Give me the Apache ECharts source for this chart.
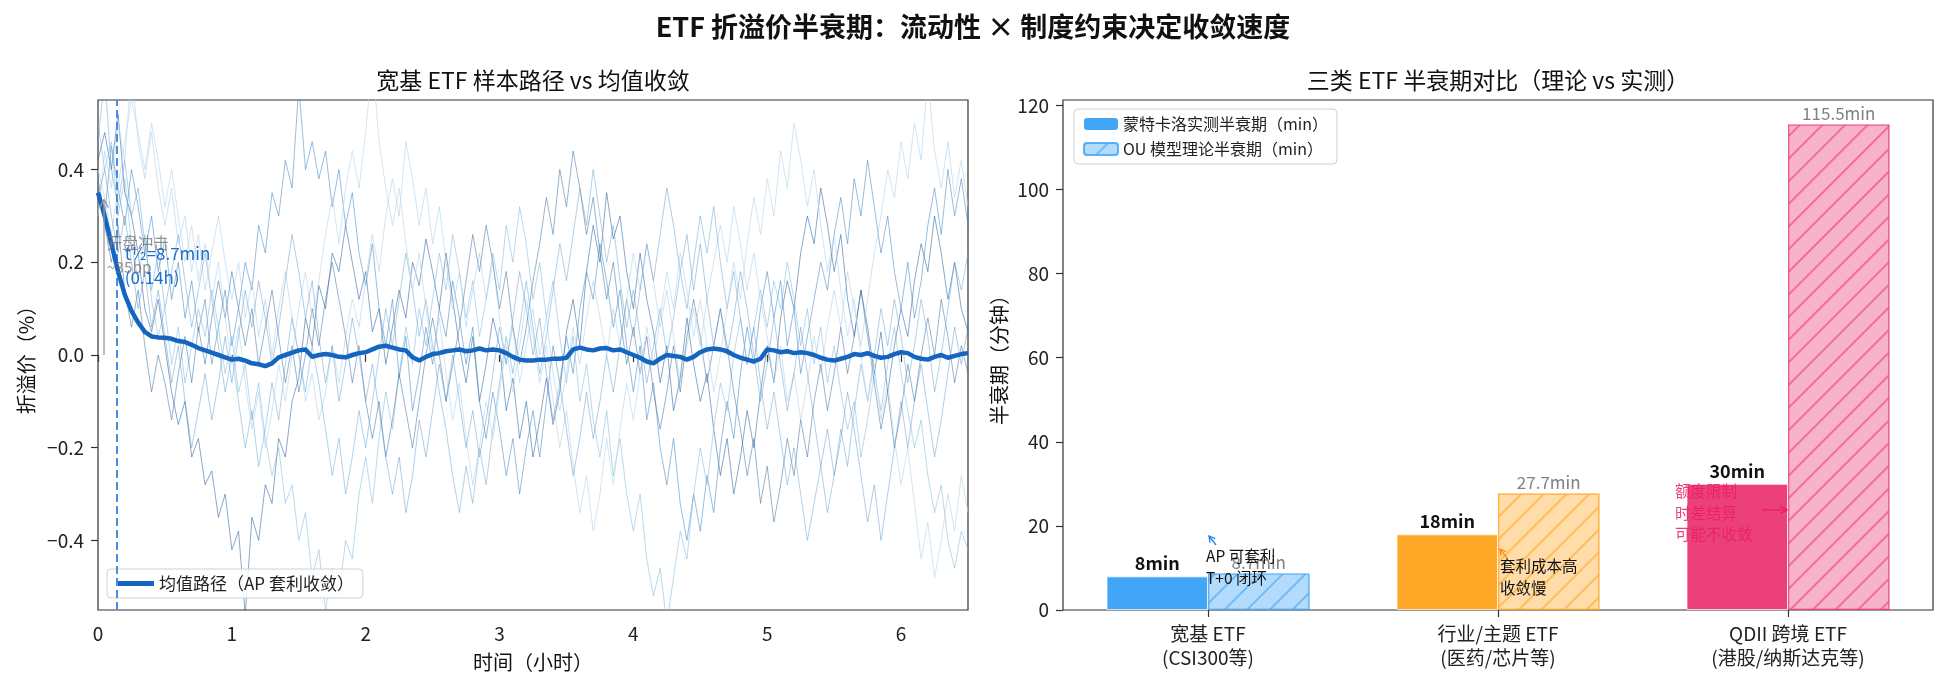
<!DOCTYPE html>
<html>
<head>
<meta charset="utf-8">
<script src="https://cdn.jsdelivr.net/npm/echarts@6/dist/echarts.min.js"></script>
<style>
  html, body { margin: 0; padding: 0; background: #fff; }
  #chart { width: 1947px; height: 692px; }
</style>
</head>
<body>
<div id="chart"></div>
<script>
// ---- data ----
var TIME_STEP = 0.05; // hours between samples
var HALF_LIFE_H = 0.145;

// mean path (AP arbitrage convergence), % premium
var meanPath = [
  0.35,0.30,0.24,0.18,0.13,0.095,0.07,0.05,0.04,0.038,
  0.037,0.035,0.03,0.028,0.022,0.015,0.01,0.005,0.0,-0.005,
  -0.01,-0.008,-0.012,-0.018,-0.02,-0.024,-0.018,-0.005,0.0,0.005,
  0.01,0.012,-0.004,0.0,0.002,0.0,-0.004,-0.005,0.0,0.004,
  0.006,0.012,0.018,0.02,0.016,0.012,0.01,-0.005,-0.012,-0.004,
  0.002,0.004,0.008,0.01,0.012,0.008,0.01,0.014,0.01,0.012,
  0.01,0.004,-0.004,-0.01,-0.012,-0.012,-0.01,-0.01,-0.008,-0.008,
  -0.006,0.012,0.016,0.012,0.01,0.014,0.015,0.01,0.012,0.006,
  0.0,-0.006,-0.014,-0.018,-0.008,0.0,-0.002,-0.004,-0.01,-0.004,
  0.006,0.012,0.014,0.012,0.008,0.0,-0.006,-0.01,-0.014,-0.008,
  0.012,0.01,0.006,0.008,0.004,0.006,0.004,0.0,-0.006,-0.01,
  -0.012,-0.008,-0.004,0.002,0.0,0.004,-0.002,-0.006,-0.004,0.002,
  0.006,0.004,-0.004,-0.008,-0.01,-0.004,0.0,-0.006,-0.002,0.002,
  0.004
];

var path1 = [
  0.42,0.48,0.40,0.52,0.35,0.30,0.22,0.10,0.05,0.12,
  0.02,-0.08,-0.15,-0.10,-0.22,-0.18,-0.28,-0.25,-0.35,-0.30,
  -0.42,-0.38,-0.56,-0.35,-0.40,-0.28,-0.32,-0.18,-0.22,-0.10,
  -0.05,0.08,0.02,0.15,0.10,0.22,0.18,0.28,0.20,0.12,
  0.18,0.05,0.10,-0.02,0.06,0.14,0.08,0.20,0.15,0.25,
  0.18,0.10,0.22,0.12,0.02,-0.06,0.04,-0.10,-0.02,0.08,
  0.02,-0.12,-0.05,-0.18,-0.10,-0.22,-0.14,-0.05,-0.15,-0.08,
  0.05,0.12,0.02,0.18,0.28,0.20,0.35,0.25,0.30,0.18,
  0.10,0.22,0.12,0.05,-0.06,0.02,-0.12,-0.05,0.08,-0.02,
  -0.10,-0.04,-0.16,-0.26,-0.18,-0.30,-0.22,-0.12,-0.20,-0.08,
  0.02,-0.06,0.08,0.16,0.10,0.22,0.30,0.24,0.36,0.28,
  0.18,0.26,0.12,0.04,0.14,0.06,-0.04,0.05,-0.08,0.02,
  0.10,0.04,0.16,0.24,0.18,0.30,0.22,0.12,0.20,0.10,
  0.05
];
var path2 = [
  0.38,0.30,0.45,0.36,0.28,0.40,0.32,0.22,0.30,0.18,
  0.25,0.12,0.20,0.08,0.16,0.05,0.12,-0.02,0.06,0.14,
  0.02,0.10,0.20,0.14,0.28,0.22,0.35,0.30,0.42,0.36,
  0.58,0.40,0.46,0.38,0.44,0.32,0.40,0.28,0.35,0.22,
  0.15,0.24,0.10,0.02,0.12,-0.05,0.04,-0.12,-0.04,0.06,
  -0.02,0.10,0.04,0.16,0.08,-0.02,0.06,-0.10,-0.18,-0.08,
  -0.16,-0.26,-0.18,-0.30,-0.20,-0.12,-0.22,-0.10,0.02,-0.06,
  0.04,-0.04,0.10,0.18,0.12,0.24,0.16,0.06,0.14,0.02,
  -0.08,0.02,-0.14,-0.06,-0.20,-0.28,-0.18,-0.32,-0.40,-0.30,
  -0.38,-0.26,-0.34,-0.20,-0.10,-0.18,-0.04,0.06,-0.02,0.10,
  0.18,0.08,0.16,0.02,0.10,-0.04,0.04,0.12,0.20,0.14,
  0.26,0.34,0.24,0.38,0.30,0.42,0.32,0.22,0.30,0.18,
  0.10,0.20,0.08,0.16,0.28,0.36,0.26,0.40,0.30,0.38,
  0.28
];
var path3 = [
  0.50,0.40,0.46,0.30,0.38,0.24,0.16,0.26,0.12,0.04,
  0.10,-0.02,0.06,-0.06,0.02,0.10,0.04,0.14,0.06,-0.04,
  0.04,-0.08,-0.02,-0.14,-0.06,-0.18,-0.26,-0.20,-0.32,-0.28,
  -0.40,-0.34,-0.48,-0.42,-0.55,-0.46,-0.52,-0.40,-0.44,-0.30,
  -0.22,-0.32,-0.18,-0.08,-0.16,-0.04,0.06,-0.02,0.10,0.02,
  0.12,0.22,0.14,0.26,0.18,0.08,0.16,0.04,0.12,0.22,
  0.14,0.28,0.20,0.32,0.24,0.12,0.20,0.08,0.16,0.04,
  -0.06,0.04,-0.10,-0.02,-0.14,-0.22,-0.12,-0.26,-0.18,-0.30,
  -0.38,-0.30,-0.44,-0.52,-0.46,-0.58,-0.48,-0.38,-0.44,-0.30,
  -0.20,-0.28,-0.16,-0.06,-0.12,0.00,0.08,-0.02,0.06,0.14,
  0.06,0.16,0.10,0.20,0.12,0.02,0.10,-0.02,0.06,-0.06,
  0.02,-0.08,-0.16,-0.10,-0.22,-0.14,-0.04,-0.12,-0.02,0.06,
  -0.04,-0.12,-0.20,-0.14,-0.26,-0.34,-0.28,-0.40,-0.46,-0.38,
  -0.42
];
var path4 = [
  0.30,0.44,0.36,0.50,0.42,0.62,0.46,0.38,0.48,0.36,
  0.28,0.36,0.24,0.30,0.18,0.26,0.14,0.22,0.30,0.20,
  0.12,0.20,0.08,0.16,0.04,0.12,0.00,0.10,0.18,0.08,
  0.00,-0.10,-0.04,-0.14,-0.08,0.02,-0.06,0.04,0.12,0.06,
  0.16,0.26,0.18,0.30,0.38,0.30,0.46,0.38,0.28,0.36,
  0.24,0.32,0.20,0.10,0.18,0.06,0.14,0.22,0.12,0.20,
  0.08,-0.02,0.06,-0.06,0.02,0.10,0.00,0.08,-0.04,-0.12,
  -0.04,0.06,-0.02,0.08,0.16,0.08,0.00,0.10,0.02,0.12,
  0.22,0.14,0.24,0.16,0.06,0.14,0.04,-0.06,0.02,0.10,
  0.02,0.12,0.20,0.28,0.20,0.32,0.24,0.14,0.22,0.12,
  0.04,-0.06,0.02,-0.10,-0.04,-0.14,-0.06,0.04,-0.04,0.06,
  0.14,0.06,0.18,0.10,0.02,0.12,0.22,0.30,0.40,0.34,
  0.46,0.38,0.50,0.42,0.60,0.44,0.36,0.46,0.34,0.42,
  0.32
];
var path5 = [
  0.36,0.28,0.20,0.28,0.14,0.06,0.14,0.02,-0.08,0.00,
  -0.06,-0.14,-0.04,0.04,-0.06,0.06,-0.02,0.08,0.16,0.08,
  0.18,0.10,0.02,0.10,-0.02,0.06,0.14,0.04,-0.06,0.02,
  -0.08,0.00,0.10,0.02,0.12,0.20,0.12,0.04,-0.06,0.02,
  -0.10,-0.18,-0.10,-0.22,-0.14,-0.04,-0.12,-0.20,-0.10,0.00,
  0.08,0.00,-0.10,-0.02,0.06,0.16,0.26,0.18,0.28,0.20,
  0.10,0.18,0.06,-0.02,0.06,0.16,0.24,0.34,0.26,0.40,
  0.32,0.44,0.36,0.26,0.34,0.22,0.12,0.20,0.08,-0.02,
  0.06,-0.04,0.04,-0.08,-0.16,-0.08,0.02,-0.08,0.04,0.12,
  0.04,-0.06,0.02,0.10,0.02,-0.08,-0.16,-0.26,-0.18,-0.32,
  -0.24,-0.36,-0.28,-0.18,-0.26,-0.14,-0.22,-0.10,-0.02,-0.12,
  -0.04,0.06,-0.04,0.04,0.14,0.04,-0.06,-0.16,-0.08,-0.20,
  -0.12,-0.02,-0.10,0.00,0.08,0.00,0.12,0.04,-0.06,0.02,
  -0.04
];
var path6 = [
  0.46,0.60,0.40,0.32,0.42,0.30,0.36,0.24,0.14,0.22,
  0.10,0.18,0.26,0.16,0.06,0.14,0.22,0.12,0.02,-0.08,
  0.00,-0.10,-0.20,-0.12,-0.24,-0.16,-0.06,-0.14,-0.02,0.08,
  0.00,-0.08,0.02,-0.06,-0.16,-0.26,-0.18,-0.30,-0.22,-0.12,
  -0.20,-0.10,0.00,0.10,0.02,0.12,0.22,0.14,0.04,0.12,
  0.02,-0.08,-0.16,-0.26,-0.34,-0.24,-0.32,-0.20,-0.28,-0.16,
  -0.06,0.04,-0.04,0.06,0.16,0.06,-0.04,0.04,0.14,0.24,
  0.16,0.26,0.36,0.28,0.40,0.30,0.20,0.28,0.16,0.06,
  0.14,0.04,-0.06,0.02,0.10,0.00,0.08,0.18,0.10,0.20,
  0.30,0.22,0.32,0.20,0.10,0.18,0.08,-0.02,0.06,-0.06,
  -0.16,-0.08,-0.18,-0.28,-0.20,-0.30,-0.40,-0.32,-0.24,-0.34,
  -0.26,-0.16,-0.24,-0.12,-0.02,-0.10,0.00,0.10,0.02,0.12,
  0.04,-0.06,0.02,0.12,0.04,-0.08,0.00,0.10,0.20,0.14,
  0.22
];
var path7 = [
  0.40,0.34,0.26,0.36,0.46,0.55,0.48,0.40,0.50,0.42,
  0.32,0.40,0.30,0.20,0.28,0.16,0.24,0.12,0.20,0.08,
  -0.02,0.06,-0.06,-0.16,-0.08,-0.20,-0.12,-0.02,-0.10,0.00,
  0.10,0.18,0.08,0.16,0.26,0.34,0.24,0.36,0.44,0.36,
  0.48,0.64,0.46,0.36,0.28,0.36,0.24,0.14,0.22,0.10,
  0.00,0.08,-0.04,-0.14,-0.06,-0.18,-0.28,-0.20,-0.10,-0.18,
  -0.08,0.02,-0.08,0.02,0.12,0.04,-0.06,0.02,-0.10,-0.20,
  -0.12,-0.24,-0.34,-0.26,-0.38,-0.30,-0.18,-0.28,-0.16,-0.06,
  -0.14,-0.04,0.06,-0.02,0.08,0.18,0.10,0.22,0.14,0.04,
  0.12,0.02,-0.08,0.00,0.10,0.20,0.12,0.24,0.34,0.26,
  0.38,0.30,0.44,0.36,0.50,0.42,0.32,0.40,0.28,0.18,
  0.26,0.14,0.04,0.12,0.00,-0.10,-0.02,-0.14,-0.06,-0.18,
  -0.28,-0.20,-0.32,-0.44,-0.36,-0.48,-0.40,-0.30,-0.38,-0.26,
  -0.34
];
var path8 = [
  0.34,0.40,0.30,0.22,0.30,0.20,0.10,0.18,0.06,0.14,
  0.04,-0.06,0.02,-0.10,-0.20,-0.12,-0.04,-0.14,-0.06,0.04,
  -0.06,0.04,0.14,0.06,0.16,0.08,-0.02,0.06,0.16,0.26,
  0.18,0.08,0.16,0.04,-0.06,0.02,-0.10,-0.02,0.08,0.00,
  -0.10,-0.02,-0.12,-0.22,-0.30,-0.22,-0.34,-0.26,-0.14,-0.22,
  -0.12,-0.02,-0.10,0.00,-0.10,-0.20,-0.12,-0.22,-0.14,-0.04,
  0.06,-0.02,0.08,0.18,0.10,0.00,0.08,-0.04,-0.14,-0.06,
  -0.16,-0.26,-0.18,-0.08,-0.18,-0.10,0.00,-0.08,0.02,0.12,
  0.04,0.14,0.24,0.16,0.26,0.36,0.28,0.18,0.26,0.14,
  0.24,0.12,0.02,0.10,0.00,0.08,0.18,0.10,0.00,-0.10,
  -0.02,0.08,-0.02,-0.12,-0.04,0.06,-0.04,-0.14,-0.24,-0.16,
  -0.26,-0.18,-0.08,-0.16,-0.26,-0.36,-0.28,-0.40,-0.30,-0.20,
  -0.10,-0.20,-0.10,-0.02,-0.12,-0.22,-0.14,-0.04,0.06,-0.02,
  0.06
];
var samplePaths = [path1, path2, path3, path4, path5, path6, path7, path8];
var pathColors = [
  'rgba(38,96,160,0.55)', 'rgba(66,135,196,0.55)', 'rgba(130,185,220,0.55)', 'rgba(175,210,235,0.6)',
  'rgba(50,105,160,0.5)', 'rgba(100,165,212,0.5)', 'rgba(190,218,238,0.7)', 'rgba(80,145,200,0.45)'
];

var categories = ['宽基 ETF\n(CSI300等)', '行业/主题 ETF\n(医药/芯片等)', 'QDII 跨境 ETF\n(港股/纳斯达克等)'];
var measuredHL = [8, 18, 30];
var theoryHL = [8.7, 27.7, 115.5];
var barColors = ['#42A5F5', '#FFA726', '#EC407A'];
var barColorsLight = ['rgba(66,165,245,0.4)', 'rgba(255,167,38,0.4)', 'rgba(236,64,122,0.4)'];
var hatchColors = ['rgba(66,165,245,0.6)', 'rgba(255,167,38,0.6)', 'rgba(236,64,122,0.6)'];

var leftXTicks = [0, 1, 2, 3, 4, 5, 6];
var leftYTicks = [-0.4, -0.2, 0, 0.2, 0.4];
var rightYTicks = [0, 20, 40, 60, 80, 100, 120];

// ---- chart ----
var FONT = '"Noto Sans CJK SC", "DejaVu Sans", sans-serif';
var chart = echarts.init(document.getElementById('chart'));

function toPairs(arr) {
  return arr.map(function (v, i) { return [+(i * TIME_STEP).toFixed(2), v]; });
}
function fmtMinus(v) {
  return (v < 0 ? '\u2212' : '') + Math.abs(v).toFixed(1);
}
function hatch(color) {
  return { symbol: 'rect', symbolSize: 1, dashArrayX: [1, 0], dashArrayY: [1.6, 14], rotation: -Math.PI / 4, color: color };
}

var series = samplePaths.map(function (p, k) {
  return {
    type: 'line', xAxisIndex: 0, yAxisIndex: 0, data: toPairs(p),
    showSymbol: false, silent: true, z: 2,
    lineStyle: { width: 1, color: pathColors[k] }
  };
});

series.push({
  name: '均值路径（AP 套利收敛）', type: 'line', xAxisIndex: 0, yAxisIndex: 0,
  data: toPairs(meanPath), showSymbol: false, z: 5,
  itemStyle: { color: '#1565C0' },
  lineStyle: { width: 4.5, color: '#1565C0' },
  markLine: {
    silent: true, symbol: 'none', label: { show: false },
    lineStyle: { color: '#4A8FDB', width: 2, type: [8, 4] },
    data: [{ xAxis: HALF_LIFE_H }]
  }
});

series.push({
  name: '蒙特卡洛实测半衰期（min）', type: 'bar', xAxisIndex: 1, yAxisIndex: 1,
  barWidth: '35%', barGap: '0%',
  itemStyle: { color: barColors[0] },
  data: measuredHL.map(function (v, i) {
    return { value: v, itemStyle: { color: barColors[i], borderColor: 'rgba(255,255,255,0.7)', borderWidth: 1 } };
  }),
  label: {
    show: true, position: 'top', distance: 4, formatter: '{c}min',
    fontFamily: FONT, fontSize: 18, fontWeight: 'bold', color: '#111'
  }
});

series.push({
  name: 'OU 模型理论半衰期（min）', type: 'bar', xAxisIndex: 1, yAxisIndex: 1,
  barWidth: '35%', barGap: '0%',
  itemStyle: { color: barColorsLight[0], borderColor: hatchColors[0], borderWidth: 1.2, decal: hatch(hatchColors[0]) },
  data: theoryHL.map(function (v, i) {
    return { value: v, itemStyle: { color: barColorsLight[i], borderColor: hatchColors[i], borderWidth: 1.2, decal: hatch(hatchColors[i]) } };
  }),
  label: {
    show: true, position: 'top', distance: 2, formatter: '{c}min',
    fontFamily: FONT, fontSize: 17, color: '#808080'
  }
});

var axisCommon = {
  axisLine: { show: false },
  axisTick: { show: true, length: 7, lineStyle: { color: '#333', width: 1.2 } },
  splitLine: { show: false },
  nameTextStyle: { fontFamily: FONT, fontSize: 20, color: '#111' }
};
function labelStyle(extra) {
  return Object.assign({ fontFamily: FONT, fontSize: 19, color: '#222', margin: 14 }, extra || {});
}

var option = {
  backgroundColor: '#fff',
  animation: false,
  grid: [
    { left: 98, top: 100, width: 870, height: 510, show: true, borderColor: '#333', borderWidth: 1.2, backgroundColor: 'transparent' },
    { left: 1063, top: 100, width: 870, height: 510, show: true, borderColor: '#333', borderWidth: 1.2, backgroundColor: 'transparent' }
  ],
  xAxis: [
    Object.assign({}, axisCommon, {
      type: 'value', gridIndex: 0, min: 0, max: 6.5,
      axisTick: Object.assign({}, axisCommon.axisTick, { customValues: leftXTicks }),
      axisLabel: labelStyle({ customValues: leftXTicks }),
      name: '时间（小时）', nameLocation: 'middle', nameGap: 42
    }),
    Object.assign({}, axisCommon, {
      type: 'category', gridIndex: 1, data: categories,
      axisTick: Object.assign({}, axisCommon.axisTick, { alignWithLabel: true }),
      axisLabel: labelStyle({ lineHeight: 24, margin: 12 })
    })
  ],
  yAxis: [
    Object.assign({}, axisCommon, {
      type: 'value', gridIndex: 0, min: -0.55, max: 0.55,
      axisTick: Object.assign({}, axisCommon.axisTick, { customValues: leftYTicks }),
      axisLabel: labelStyle({ customValues: leftYTicks, formatter: fmtMinus }),
      name: '折溢价（%）', nameLocation: 'middle', nameGap: 62
    }),
    Object.assign({}, axisCommon, {
      type: 'value', gridIndex: 1, min: 0, max: 121.3,
      axisTick: Object.assign({}, axisCommon.axisTick, { customValues: rightYTicks }),
      axisLabel: labelStyle({ customValues: rightYTicks }),
      name: '半衰期（分钟）', nameLocation: 'middle', nameGap: 54
    })
  ],
  legend: [
    {
      data: [{ name: '均值路径（AP 套利收敛）', icon: 'rect' }],
      left: 107, top: 569, itemWidth: 38, itemHeight: 5,
      padding: [6, 9], backgroundColor: 'rgba(255,255,255,0.85)',
      borderColor: '#d0d0d0', borderWidth: 1, borderRadius: 4,
      textStyle: { fontFamily: FONT, fontSize: 17, color: '#222' }
    },
    {
      data: ['蒙特卡洛实测半衰期（min）', 'OU 模型理论半衰期（min）'],
      orient: 'vertical', left: 1074, top: 109, itemWidth: 34, itemHeight: 12, itemGap: 9,
      padding: [7, 9], backgroundColor: 'rgba(255,255,255,0.85)',
      borderColor: '#d0d0d0', borderWidth: 1, borderRadius: 4,
      textStyle: { fontFamily: FONT, fontSize: 16, color: '#222' }
    }
  ],
  series: series
};
chart.setOption(option);

// ---- annotations placed from data coordinates ----
function px(grid, coord) {
  return grid === 0
    ? chart.convertToPixel({ xAxisIndex: 0, yAxisIndex: 0 }, coord)
    : chart.convertToPixel({ xAxisIndex: 1, yAxisIndex: 1 }, coord);
}
function text(x, y, str, opts) {
  return {
    type: 'text', z: 50, x: x, y: y, silent: true,
    style: Object.assign({
      text: str, fontFamily: FONT, fontSize: 15.5, fill: '#111',
      align: 'left', verticalAlign: 'middle', lineHeight: 22
    }, opts || {})
  };
}
function arrow(p0, p1, color, head) {
  var dx = p1[0] - p0[0], dy = p1[1] - p0[1];
  var len = Math.sqrt(dx * dx + dy * dy), ux = dx / len, uy = dy / len;
  var h = head || 7, w = h * 0.55;
  var b = [p1[0] - ux * h, p1[1] - uy * h];
  return [
    { type: 'line', z: 50, silent: true, shape: { x1: p0[0], y1: p0[1], x2: p1[0], y2: p1[1] }, style: { stroke: color, lineWidth: 1.3 } },
    { type: 'polyline', z: 50, silent: true,
      shape: { points: [[b[0] - uy * w, b[1] + ux * w], p1, [b[0] + uy * w, b[1] - ux * w]] },
      style: { stroke: color, lineWidth: 1.3, fill: null } }
  ];
}

var g = [];
// suptitle & panel titles
g.push(text(973, 27, 'ETF 折溢价半衰期：流动性 × 制度约束决定收敛速度',
  { fontSize: 27, fontWeight: 'bold', align: 'center', fill: '#111' }));
g.push(text(533, 80, '宽基 ETF 样本路径 vs 均值收敛', { fontSize: 23, align: 'center', fill: '#111' }));
g.push(text(1498, 80, '三类 ETF 半衰期对比（理论 vs 实测）', { fontSize: 23, align: 'center', fill: '#111' }));

// left panel: opening shock arrow + half-life text
var a0 = px(0, [0.045, 0.0]), a1 = px(0, [0.045, 0.335]);
g = g.concat(arrow(a0, a1, '#9a9a9a', 8));
var tShock = px(0, [0.065, 0.215]);
g.push(text(tShock[0], tShock[1], '开盘冲击\n~35bp', { fill: 'rgba(120,120,120,0.8)', lineHeight: 24 }));
var tHalf = px(0, [0.2, 0.193]);
g.push(text(tHalf[0], tHalf[1], 't½=8.7min\n(0.14h)', { fill: '#1E6FC8', fontSize: 17, lineHeight: 24 }));

// right panel notes
var n0 = px(1, [0, 10.2]);
g.push(text(n0[0] - 2, n0[1], 'AP 可套利\nT+0 闭环', { fill: '#111' }));
var h0 = px(1, [0, 17.6]);
g = g.concat(arrow([h0[0] + 8, h0[1] + 9], [h0[0] + 1, h0[1]], '#1E88E5', 6));

var n1 = px(1, [1, 7.9]);
g.push(text(n1[0] + 2, n1[1], '套利成本高\n收敛慢', { fill: '#111' }));
var h1 = px(1, [1, 14.5]);
g = g.concat(arrow([h1[0] + 9, h1[1] + 9], [h1[0] + 2, h1[1]], '#FB8C00', 6));

var n2 = px(1, [2, 23.1]);
g.push(text(n2[0] - 113, n2[1], '额度限制\n时差结算\n可能不收敛', { fill: 'rgba(233,30,99,0.85)', lineHeight: 21.5 }));
var h2 = px(1, [2, 23.8]);
g = g.concat(arrow([h2[0] - 26, h2[1]], [h2[0] - 1, h2[1]], '#E91E63', 7));

chart.setOption({ graphic: g });
</script>
</body>
</html>
